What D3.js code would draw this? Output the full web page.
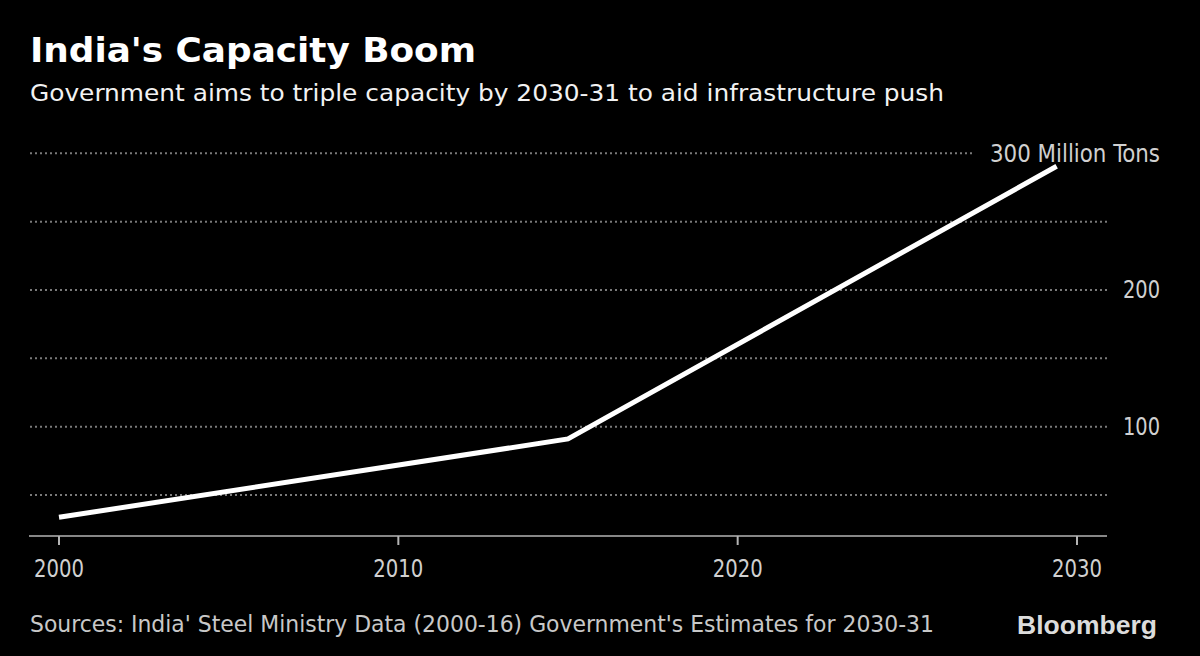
<!DOCTYPE html>
<html>
<head>
<meta charset="utf-8">
<script src="https://cdn.jsdelivr.net/npm/d3@7"></script>
<style>
  html, body { margin: 0; padding: 0; background: #000; }
  svg { display: block; }
</style>
</head>
<body>
<svg id="chart" width="1200" height="656"></svg>
<script>
// ---- data ----
const years = [2000, 2015, 2029.4];
const capacity = [33.7, 91, 290.5];
const xTickValues = [2000, 2010, 2020, 2030];
const xTickLabels = ["2000", "2010", "2020", "2030"];
const yGridValues = [50, 100, 150, 200, 250, 300];
const yLabelValues = [100, 200, 300];
const yLabelTexts = ["100", "200", "300 Million Tons"];
const title = "India's Capacity Boom";
const subtitle = "Government aims to triple capacity by 2030-31 to aid infrastructure push";
const source = "Sources: India' Steel Ministry Data (2000-16) Government's Estimates for 2030-31";
const brand = "Bloomberg";

const svg = d3.select("#chart");
svg.append("rect").attr("width", 1200).attr("height", 656).attr("fill", "#000");

const x = d3.scaleLinear().domain([2000, 2030]).range([59, 1077]);
const y = d3.scaleLinear().domain([20, 300]).range([536, 153.3]);

const FONT = "'DejaVu Sans Condensed', 'DejaVu Sans', sans-serif";

// title & subtitle
svg.append("text").attr("x", 30).attr("y", 61.5)
  .attr("font-family", FONT).attr("font-weight", "bold").attr("font-size", 33)
  .attr("fill", "#fff").attr("textLength", 446).attr("lengthAdjust", "spacingAndGlyphs")
  .text(title);
svg.append("text").attr("x", 30).attr("y", 101)
  .attr("font-family", FONT).attr("font-size", 23.5)
  .attr("fill", "#f2f2f2").attr("textLength", 914).attr("lengthAdjust", "spacingAndGlyphs")
  .text(subtitle);

// y labels (right side, end-anchored)
const labelRight = 1160;
const labels = svg.append("g").selectAll("text").data(yLabelValues).join("text")
  .attr("x", labelRight)
  .attr("y", d => y(d) + 8.5)
  .attr("text-anchor", "end")
  .attr("font-family", FONT).attr("font-size", 24)
  .attr("fill", "#d0d0d0")
  .text((d, i) => yLabelTexts[i]);
labels.filter(d => d === 300)
  .attr("textLength", 170).attr("lengthAdjust", "spacingAndGlyphs");
labels.filter(d => d !== 300)
  .attr("textLength", 37).attr("lengthAdjust", "spacingAndGlyphs");

// grid lines
svg.append("g").selectAll("line").data(yGridValues).join("line")
  .attr("x1", 30)
  .attr("x2", d => d === 300 ? 973 : 1107)
  .attr("y1", d => y(d)).attr("y2", d => y(d))
  .attr("stroke", "#7a7a7a").attr("stroke-width", 2)
  .attr("stroke-dasharray", "2,3");

// x axis
const axisY = y(20);
svg.append("line").attr("x1", 29).attr("x2", 1107).attr("y1", axisY).attr("y2", axisY)
  .attr("stroke", "#b4b4b4").attr("stroke-width", 1.5);
svg.append("g").selectAll("line").data(xTickValues).join("line")
  .attr("x1", d => x(d)).attr("x2", d => x(d))
  .attr("y1", axisY).attr("y2", axisY + 9)
  .attr("stroke", "#b4b4b4").attr("stroke-width", 2);
svg.append("g").selectAll("text").data(xTickValues).join("text")
  .attr("x", d => x(d)).attr("y", 577)
  .attr("text-anchor", "middle")
  .attr("font-family", FONT).attr("font-size", 24)
  .attr("fill", "#d0d0d0")
  .attr("textLength", 50).attr("lengthAdjust", "spacingAndGlyphs")
  .text((d, i) => xTickLabels[i]);

// line
const pts = years.map((yr, i) => [yr, capacity[i]]);
svg.append("path").datum(pts)
  .attr("d", d3.line().x(d => x(d[0])).y(d => y(d[1])))
  .attr("fill", "none").attr("stroke", "#fff").attr("stroke-width", 5)
  .attr("stroke-linejoin", "miter").attr("stroke-linecap", "butt");

// footer
svg.append("text").attr("x", 30).attr("y", 632)
  .attr("font-family", FONT).attr("font-size", 23.5)
  .attr("fill", "#c8c8c8").attr("textLength", 904).attr("lengthAdjust", "spacingAndGlyphs")
  .text(source);
svg.append("text").attr("x", 1017).attr("y", 634)
  .attr("font-family", "'Liberation Sans', Arial, sans-serif").attr("font-weight", "bold")
  .attr("font-size", 25)
  .attr("fill", "#dcdcdc").attr("textLength", 140).attr("lengthAdjust", "spacingAndGlyphs")
  .text(brand);
</script>
</body>
</html>
